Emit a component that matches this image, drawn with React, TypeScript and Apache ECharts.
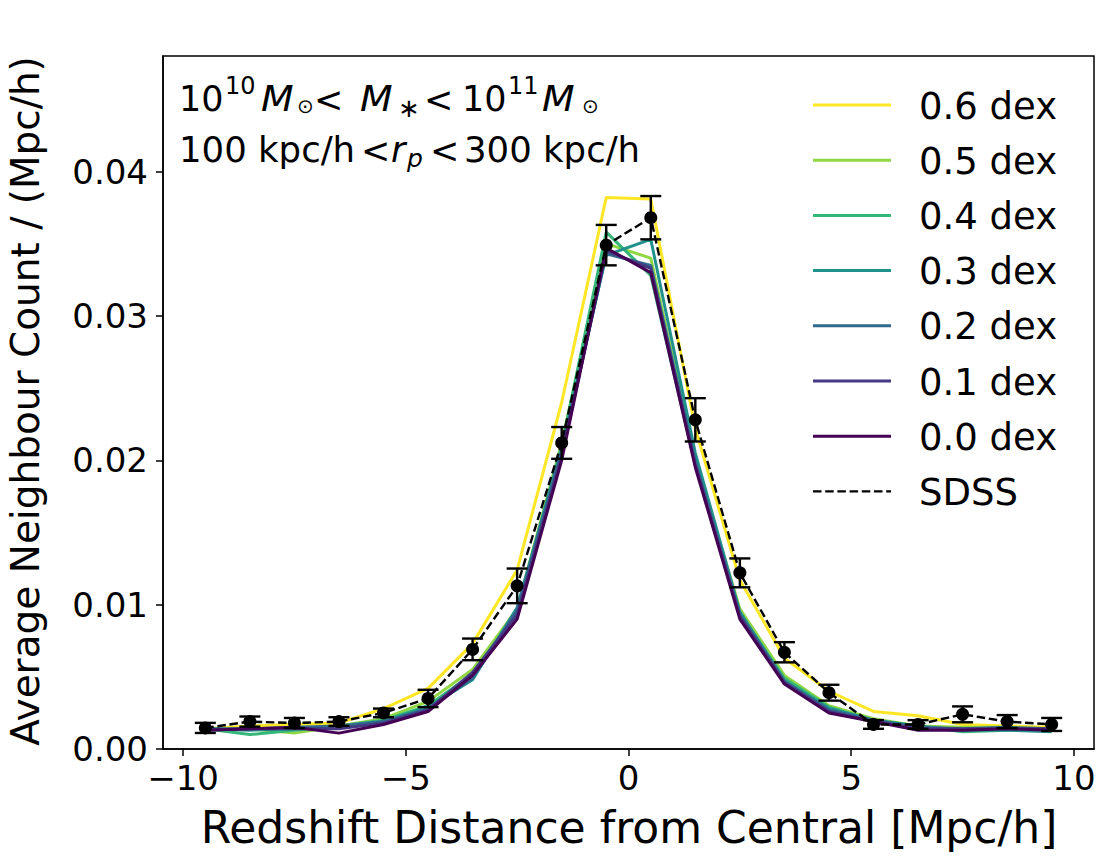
import React, { useEffect, useRef } from "react";
import * as echarts from "echarts";

// ---------- data ----------
const xCenters = [-9.5, -8.5, -7.5, -6.5, -5.5, -4.5, -3.5, -2.5, -1.5, -0.5, 0.5, 1.5, 2.5, 3.5, 4.5, 5.5, 6.5, 7.5, 8.5, 9.5];

const sdss = [0.00146, 0.0019, 0.0018, 0.0019, 0.0025, 0.0035, 0.0069, 0.0113, 0.0212, 0.0349, 0.0368, 0.0228, 0.0122, 0.0067, 0.0039, 0.0017, 0.0017, 0.0024, 0.0019, 0.0017];
const sdssErr = [0.00035, 0.00035, 0.00035, 0.0003, 0.0003, 0.0006, 0.00075, 0.0012, 0.0011, 0.0014, 0.0015, 0.0015, 0.001, 0.0007, 0.00055, 0.0003, 0.0003, 0.00055, 0.00045, 0.00045];

const dex06 = [0.0014, 0.0016, 0.0017, 0.0018, 0.0028, 0.0042, 0.0073, 0.0124, 0.024, 0.0382, 0.0381, 0.0222, 0.0117, 0.0063, 0.004, 0.0026, 0.0023, 0.0017, 0.0016, 0.0015];
const dex05 = [0.0014, 0.0014, 0.0011, 0.0016, 0.0021, 0.0033, 0.0055, 0.0097, 0.0212, 0.035, 0.034, 0.02, 0.0097, 0.0051, 0.003, 0.0021, 0.0016, 0.0015, 0.0015, 0.0014];
const dex04 = [0.0014, 0.001, 0.0013, 0.0016, 0.002, 0.003, 0.0052, 0.0095, 0.021, 0.0358, 0.0328, 0.0197, 0.0094, 0.0049, 0.0029, 0.002, 0.0016, 0.0012, 0.0013, 0.0013];
const dex03 = [0.0014, 0.0013, 0.0014, 0.0015, 0.0019, 0.0029, 0.0048, 0.0098, 0.0208, 0.0342, 0.0353, 0.0205, 0.0095, 0.0047, 0.0028, 0.002, 0.0016, 0.0013, 0.0013, 0.0012];
const dex02 = [0.0014, 0.0014, 0.0015, 0.0016, 0.0019, 0.0028, 0.0049, 0.0096, 0.0206, 0.0343, 0.0335, 0.0199, 0.0093, 0.0047, 0.0027, 0.002, 0.0015, 0.0014, 0.0015, 0.0014];
const dex01 = [0.0013, 0.0014, 0.0014, 0.0014, 0.0018, 0.0027, 0.0053, 0.0093, 0.0203, 0.0345, 0.0333, 0.0197, 0.0092, 0.0046, 0.0026, 0.0019, 0.0014, 0.0014, 0.0014, 0.0014];
const dex00 = [0.0013, 0.0014, 0.0015, 0.0011, 0.0017, 0.0026, 0.0051, 0.009, 0.02, 0.0347, 0.033, 0.0195, 0.009, 0.0045, 0.0025, 0.0019, 0.0013, 0.0013, 0.0014, 0.0013];

const modelNames = ["0.6 dex", "0.5 dex", "0.4 dex", "0.3 dex", "0.2 dex", "0.1 dex", "0.0 dex"];
const modelValues = [dex06, dex05, dex04, dex03, dex02, dex01, dex00];
const modelColors = ["#fde725", "#90d743", "#35b779", "#21918c", "#31688e", "#443983", "#440154"];

const xTicks = [-10, -5, 0, 5, 10];
const yTicks = [0, 0.01, 0.02, 0.03, 0.04];

const FONT = '"DejaVu Sans", sans-serif';

export default function App() {
  const ref = useRef<HTMLDivElement>(null);

  useEffect(() => {
    document.body.style.margin = "0";
    const chart = echarts.init(ref.current as HTMLDivElement, null, { renderer: "svg" });

    const gridLeft = 163;
    const gridTop = 56;
    const gridW = 931;
    const gridH = 693;
    const LW = 3;
    const DASH = [8.5, 3.7];

    const lineSeries = modelNames.map((name, k) => ({
      name,
      type: "line",
      data: xCenters.map((x, i) => [x, modelValues[k][i]]),
      symbol: "none",
      lineStyle: { color: modelColors[k], width: LW },
      silent: true,
      z: 2 + k * 0.01,
    }));

    const sdssLine = {
      name: "SDSS",
      type: "line",
      data: xCenters.map((x, i) => [x, sdss[i]]),
      symbol: "none",
      lineStyle: { color: "#000", width: 2.4, type: DASH },
      silent: true,
      z: 3,
    };

    const errSeries = {
      type: "custom",
      data: xCenters.map((x, i) => [x, sdss[i], sdssErr[i]]),
      encode: { x: 0, y: 1 },
      z: 4,
      silent: true,
      renderItem: (params: any, api: any) => {
        const x = api.value(0);
        const y = api.value(1);
        const e = api.value(2);
        const top = api.coord([x, y + e]);
        const bot = api.coord([x, y - e]);
        const hw = 10.5;
        const st = { stroke: "#000", lineWidth: 2.4 };
        return {
          type: "group",
          children: [
            { type: "line", shape: { x1: top[0], y1: top[1], x2: bot[0], y2: bot[1] }, style: st },
            { type: "line", shape: { x1: top[0] - hw, y1: top[1], x2: top[0] + hw, y2: top[1] }, style: st },
            { type: "line", shape: { x1: bot[0] - hw, y1: bot[1], x2: bot[0] + hw, y2: bot[1] }, style: st },
          ],
        };
      },
    };

    const sdssPoints = {
      type: "scatter",
      data: xCenters.map((x, i) => [x, sdss[i]]),
      symbol: "circle",
      symbolSize: 13,
      itemStyle: { color: "#000", opacity: 1 },
      silent: true,
      z: 5,
    };

    // legend drawn as graphic
    const legendNames = [...modelNames, "SDSS"];
    const legendColors = [...modelColors, "#000"];
    const legendElems: any[] = [];
    legendNames.forEach((name, i) => {
      const y = 105 + i * 55.2;
      legendElems.push({
        type: "line",
        shape: { x1: 813, y1: y, x2: 891, y2: y },
        style: {
          stroke: legendColors[i],
          lineWidth: name === "SDSS" ? 2.4 : LW,
          lineDash: name === "SDSS" ? DASH : null,
        },
      });
      legendElems.push({
        type: "text",
        x: 919,
        y: y + 1,
        style: { text: name, fontSize: 37, fontFamily: FONT, fill: "#000", verticalAlign: "middle", align: "left" },
      });
    });

    const txt = (text: string, x: number, y: number, size: number, italic = false, sx = 1) => ({
      type: "text",
      x,
      y,
      scaleX: sx,
      style: {
        text,
        fontSize: size,
        fontFamily: FONT,
        fontStyle: italic ? "italic" : "normal",
        fill: "#000",
        verticalAlign: "middle",
        align: "left",
      },
    });

    const l1 = 98.5;
    const l2 = 149.5;
    const annotation = [
      txt("10", 179, l1, 35),
      txt("10", 225, l1 - 13, 24),
      txt("M", 261, l1, 35, true, 1.08),
      txt("⊙", 297, l1 + 7, 20),
      txt("<", 314, l1 + 1, 35),
      txt("M", 360, l1, 35, true, 1.08),
      txt("∗", 398, l1 + 9, 26),
      txt("<", 424, l1 + 1, 35),
      txt("10", 462, l1, 35),
      txt("11", 508, l1 - 13, 24),
      txt("M", 542, l1, 35, true, 1.08),
      txt("⊙", 582, l1 + 7, 20),
      txt("100 kpc/h", 179, l2, 35.5),
      txt("<", 361, l2 + 1, 35),
      txt("r", 391, l2, 35, true),
      txt("p", 407, l2 + 9, 25, true),
      txt("<", 430, l2 + 1, 35),
      txt("300 kpc/h", 464, l2, 35.5),
    ];

    const titles = [
      {
        type: "text",
        x: 629,
        y: 827,
        style: {
          text: "Redshift Distance from Central [Mpc/h]",
          fontSize: 44,
          fontFamily: FONT,
          fill: "#000",
          align: "center",
          verticalAlign: "middle",
        },
      },
      {
        type: "text",
        x: 25,
        y: 401,
        rotation: Math.PI / 2,
        style: {
          text: "Average Neighbour Count / (Mpc/h)",
          fontSize: 39,
          fontFamily: FONT,
          fill: "#000",
          align: "center",
          verticalAlign: "middle",
        },
      },
    ];

    const option: any = {
      animation: false,
      backgroundColor: "#fff",
      grid: {
        left: gridLeft,
        top: gridTop,
        width: gridW,
        height: gridH,
        containLabel: false,
        show: true,
        borderColor: "#000",
        borderWidth: 1.5,
        backgroundColor: "transparent",
      },
      xAxis: {
        type: "value",
        min: -10.45,
        max: 10.45,
        axisLine: { show: true, onZero: false, lineStyle: { color: "#000", width: 1.5 } },
        axisTick: { show: true, inside: false, length: 7, lineStyle: { color: "#000", width: 1.5 }, customValues: xTicks },
        axisLabel: {
          show: true,
          customValues: xTicks,
          margin: 12,
          fontSize: 34,
          fontFamily: FONT,
          color: "#000",
          formatter: (v: number) => String(v).replace("-", "\u2212"),
        },
        splitLine: { show: false },
      },
      yAxis: {
        type: "value",
        min: 0,
        max: 0.048,
        axisLine: { show: true, onZero: false, lineStyle: { color: "#000", width: 1.5 } },
        axisTick: { show: true, inside: false, length: 7, lineStyle: { color: "#000", width: 1.5 }, customValues: yTicks },
        axisLabel: {
          show: true,
          customValues: yTicks,
          margin: 15,
          fontSize: 34,
          fontFamily: FONT,
          color: "#000",
          formatter: (v: number) => v.toFixed(2),
        },
        splitLine: { show: false },
      },
      series: [...lineSeries, sdssLine, errSeries, sdssPoints],
      graphic: [...legendElems, ...annotation, ...titles],
    };

    chart.setOption(option);
    return () => chart.dispose();
  }, []);

  return <div ref={ref} style={{ width: 1117, height: 867 }} />;
}
